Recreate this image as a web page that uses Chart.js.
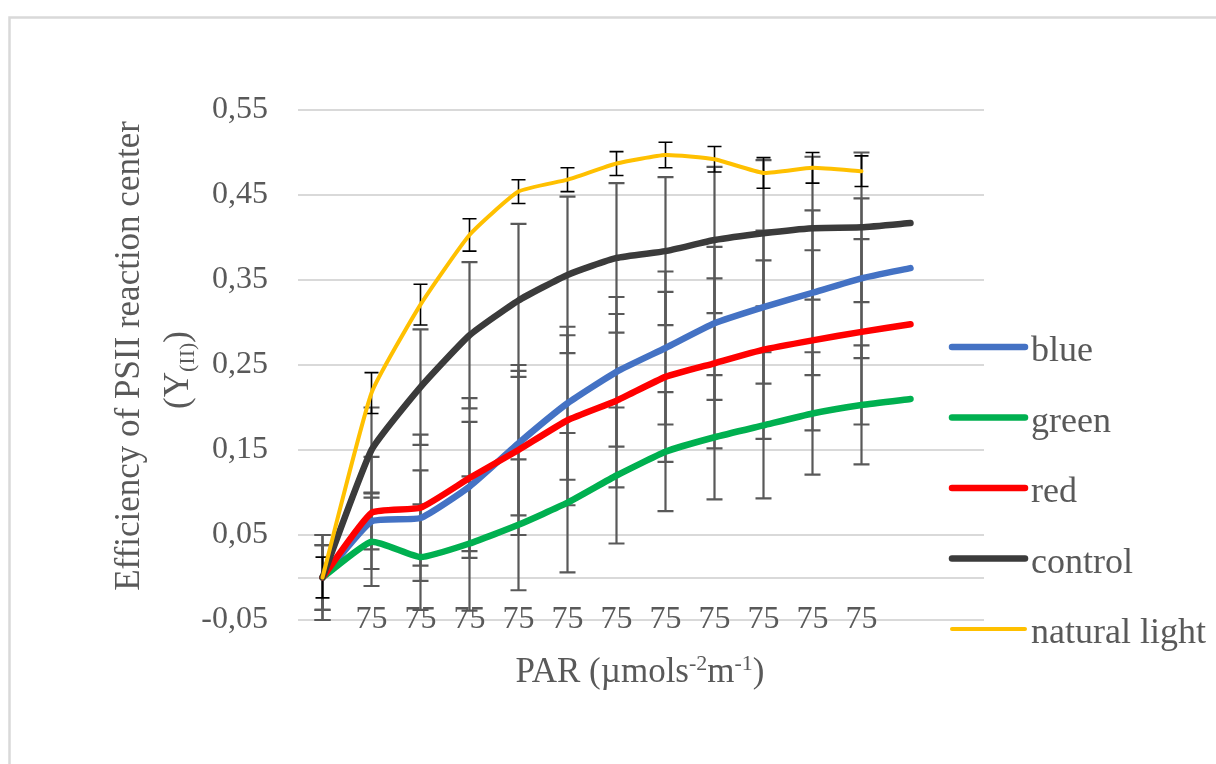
<!DOCTYPE html>
<html>
<head>
<meta charset="utf-8">
<script src="https://cdn.jsdelivr.net/npm/chart.js@4/dist/chart.umd.min.js"></script>
<style>
  html, body { margin: 0; padding: 0; background: #ffffff; }
  canvas { display: block; }
</style>
</head>
<body>
<canvas id="psii-chart" width="1216" height="764"></canvas>
<script>
const SERIF = "'Liberation Serif', 'Times New Roman', serif";
const TEXT_GREY = "#595959";

// categories: first and last two have no label
const xLabels = ["", "75", "75", "75", "75", "75", "75", "75", "75", "75", "75", "75", "", ""];

const yTickValues = [-0.05, 0, 0.05, 0.15, 0.25, 0.35, 0.45, 0.55];
const yTickLabels = ["-0,05", "", "0,05", "0,15", "0,25", "0,35", "0,45", "0,55"];

const blueValues    = [0, 0.066, 0.070, 0.107, 0.158, 0.205, 0.242, 0.270, 0.299, 0.318, 0.335, 0.352, 0.364];
const greenValues   = [0, 0.042, 0.024, 0.040, 0.062, 0.088, 0.120, 0.148, 0.165, 0.179, 0.193, 0.203, 0.210];
const redValues     = [0, 0.076, 0.082, 0.117, 0.150, 0.185, 0.208, 0.236, 0.252, 0.268, 0.279, 0.289, 0.298];
const controlValues = [0, 0.150, 0.224, 0.285, 0.326, 0.356, 0.376, 0.384, 0.397, 0.405, 0.411, 0.412, 0.417];
const naturalValues = [0, 0.217, 0.321, 0.403, 0.454, 0.468, 0.487, 0.497, 0.492, 0.476, 0.482, 0.478];

// +/- error per point
const blueErr    = [0.038, 0.033, 0.056, 0.076, 0.085, 0.090, 0.088, 0.090, 0.090, 0.090, 0.097, 0.094, null];
const greenErr   = [0.038, 0.052, 0.062, 0.079, 0.077, 0.082, 0.080, 0.070, 0.073, 0.086, 0.072, 0.070, null];
const redErr     = [0.050, 0.066, 0.086, 0.094, 0.100, 0.100, 0.102, 0.100, 0.100, 0.105, 0.106, 0.109, null];
const controlErr = [0.050, 0.050, 0.068, 0.086, 0.090, 0.092, 0.088, 0.087, 0.086, 0.086, 0.084, 0.088, null];
const naturalErr = [0.024, 0.024, 0.024, 0.019, 0.014, 0.014, 0.014, 0.015, 0.015, 0.018, 0.018, 0.018];

function makeSeries(label, values, errors, color, width, order, errColor, errWidth, capW) {
    return {
        label: label,
        data: values,
        errors: errors,
        borderColor: color,
        backgroundColor: color,
        borderWidth: width,
        pointRadius: 0,
        tension: 0.15,
        borderCapStyle: "round",
        borderJoinStyle: "round",
        fill: false,
        order: order,
        errColor: errColor,
        errWidth: errWidth,
        capW: capW
    };
}

// draws rich text (super/subscripts) centered on x
function drawParts(ctx, parts, cx, baseline) {
    let total = 0;
    for (const p of parts) {
        ctx.font = p.size + "px " + SERIF;
        p.w = ctx.measureText(p.t).width;
        total += p.w;
    }
    let x = cx - total / 2;
    ctx.textAlign = "left";
    ctx.textBaseline = "alphabetic";
    for (const p of parts) {
        ctx.font = p.size + "px " + SERIF;
        ctx.fillText(p.t, x, baseline + (p.dy || 0));
        x += p.w;
    }
}

// x labels sit on the bottom gridline, Chart.js would clip them, so draw them here
const xTickText = {
    id: "xTickText",
    afterDraw(chart) {
        const ctx = chart.ctx;
        const xs = chart.scales.x;
        ctx.save();
        ctx.fillStyle = TEXT_GREY;
        ctx.font = "32px " + SERIF;
        ctx.textAlign = "center";
        ctx.textBaseline = "alphabetic";
        xLabels.forEach((lbl, i) => {
            if (lbl) ctx.fillText(lbl, xs.getPixelForValue(i), 628);
        });
        ctx.restore();
    }
};

const errorBars = {
    id: "errorBars",
    beforeDatasetsDraw(chart) {
        const ctx = chart.ctx;
        const y = chart.scales.y;
        // draw in back-to-front order like the lines
        const metas = chart.getSortedVisibleDatasetMetas().slice().reverse();
        for (const meta of metas) {
            const ds = chart.data.datasets[meta.index];
            ctx.save();
            ctx.strokeStyle = ds.errColor;
            ctx.lineWidth = ds.errWidth;
            meta.data.forEach((pt, j) => {
                const e = ds.errors[j];
                if (e == null) return;
                const v = ds.data[j];
                const top = y.getPixelForValue(v + e);
                const bot = y.getPixelForValue(v - e);
                const x = pt.x;
                ctx.beginPath();
                ctx.moveTo(x, top);
                ctx.lineTo(x, bot);
                ctx.moveTo(x - ds.capW / 2, top);
                ctx.lineTo(x + ds.capW / 2, top);
                ctx.moveTo(x - ds.capW / 2, bot);
                ctx.lineTo(x + ds.capW / 2, bot);
                ctx.stroke();
            });
            ctx.restore();
        }
    }
};

const decorations = {
    id: "decorations",
    afterDraw(chart) {
        const ctx = chart.ctx;
        ctx.save();

        // outer frame
        ctx.strokeStyle = "#d9d9d9";
        ctx.lineWidth = 2.5;
        ctx.strokeRect(9.5, 17.5, 1400, 900);

        // legend
        let ly = 347;
        for (const ds of chart.data.datasets) {
            ctx.strokeStyle = ds.borderColor;
            ctx.lineWidth = ds.borderWidth;
            ctx.lineCap = "round";
            ctx.beginPath();
            ctx.moveTo(952, ly);
            ctx.lineTo(1025, ly);
            ctx.stroke();
            ctx.fillStyle = TEXT_GREY;
            ctx.font = "36px " + SERIF;
            ctx.textAlign = "left";
            ctx.textBaseline = "alphabetic";
            ctx.fillText(ds.label, 1031, ly + 14);
            ly += 70.5;
        }

        // x axis title
        ctx.fillStyle = TEXT_GREY;
        drawParts(ctx, [
            { t: "PAR (µmols", size: 35 },
            { t: "-2", size: 22, dy: -12 },
            { t: "m", size: 35 },
            { t: "-1", size: 22, dy: -12 },
            { t: ")", size: 35 }
        ], 640, 682);

        // y axis title (two lines, rotated)
        ctx.save();
        ctx.translate(139, 356);
        ctx.rotate(-Math.PI / 2);
        drawParts(ctx, [{ t: "Efficiency of PSII reaction center", size: 35 }], 0, 0);
        ctx.restore();
        ctx.save();
        ctx.translate(188, 370);
        ctx.rotate(-Math.PI / 2);
        drawParts(ctx, [
            { t: "(Y", size: 35 },
            { t: "(II)", size: 22, dy: 6 },
            { t: ")", size: 35 }
        ], 0, 0);
        ctx.restore();

        ctx.restore();
    }
};

new Chart(document.getElementById("psii-chart"), {
    type: "line",
    data: {
        labels: xLabels,
        datasets: [
            makeSeries("blue", blueValues, blueErr, "#4472C4", 6.5, 5, "#595959", 2.2, 16),
            makeSeries("green", greenValues, greenErr, "#00B050", 6.5, 4, "#595959", 2.2, 16),
            makeSeries("red", redValues, redErr, "#FF0000", 6.5, 3, "#595959", 2.2, 16),
            makeSeries("control", controlValues, controlErr, "#3B3B3B", 6.5, 2, "#595959", 2.2, 16),
            makeSeries("natural light", naturalValues, naturalErr, "#FFC000", 4, 1, "#000000", 1.6, 14)
        ]
    },
    options: {
        responsive: false,
        animation: false,
        layout: { padding: { left: 0, right: 232, top: 110, bottom: 0 } },
        plugins: {
            legend: { display: false },
            tooltip: { enabled: false }
        },
        scales: {
            x: {
                offset: true,
                grid: { display: false, drawTicks: false },
                border: { display: false },
                ticks: { display: false },
                afterFit(scale) { scale.height = 144; }
            },
            y: {
                min: -0.05,
                max: 0.55,
                grid: { color: "#d9d9d9", lineWidth: 2, drawTicks: false },
                border: { display: false },
                ticks: {
                    padding: 30,
                    color: TEXT_GREY,
                    font: { family: SERIF, size: 32 },
                    callback: (value, index) => yTickLabels[index]
                },
                afterBuildTicks(scale) {
                    scale.ticks = yTickValues.map(v => ({ value: v }));
                },
                afterFit(scale) { scale.width = 298; }
            }
        }
    },
    plugins: [errorBars, xTickText, decorations]
});
</script>
</body>
</html>
